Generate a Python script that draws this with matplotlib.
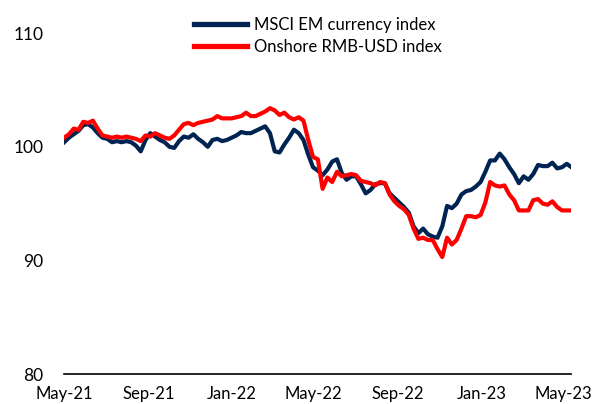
import matplotlib
matplotlib.use("Agg")
import matplotlib.pyplot as plt
import matplotlib.dates as mdates
import pandas as pd

plt.rcParams["font.family"] = ["Lato", "DejaVu Sans"]

# weekly observations, May-2021 to May-2023
START = "2021-05-01"
N_WEEKS = 107

MSCI_EM = [
    100.4, 100.8, 101.1, 101.4, 101.9, 102.0, 101.7, 101.2, 100.8, 100.7,
    100.4, 100.5, 100.4, 100.5, 100.4, 100.1, 99.6, 100.6, 101.2, 100.9,
    100.6, 100.4, 100.0, 99.9, 100.5, 100.9, 100.8, 101.1, 100.7, 100.4,
    100.0, 100.6, 100.7, 100.5, 100.6, 100.8, 101.0, 101.3, 101.2, 101.2,
    101.4, 101.6, 101.8, 101.2, 99.6, 99.5, 100.2, 100.8, 101.5, 101.2,
    100.6, 99.3, 98.2, 97.9, 97.5, 98.0, 98.7, 98.9, 97.7, 97.1,
    97.4, 97.4, 96.7, 95.9, 96.2, 96.7, 96.8, 96.8, 95.9, 95.5,
    95.1, 94.7, 94.2, 93.0, 92.4, 92.8, 92.3, 92.1, 92.0, 93.0,
    94.8, 94.6, 95.0, 95.8, 96.1, 96.2, 96.5, 96.9, 97.8, 98.8,
    98.8, 99.4, 98.9, 98.2, 97.6, 96.8, 97.4, 97.1, 97.6, 98.4,
    98.3, 98.3, 98.6, 98.1, 98.2, 98.5, 98.2,
]

RMB_USD = [
    100.8, 101.1, 101.6, 101.5, 102.2, 102.1, 102.3, 101.6, 101.0, 100.9,
    100.8, 100.9, 100.8, 100.9, 100.8, 100.7, 100.5, 101.0, 100.9, 101.2,
    101.0, 100.8, 100.7, 101.0, 101.5, 102.0, 102.1, 101.9, 102.1, 102.2,
    102.3, 102.4, 102.7, 102.5, 102.5, 102.5, 102.6, 102.7, 103.0, 102.7,
    102.7, 102.9, 103.1, 103.4, 103.2, 102.8, 103.0, 102.6, 102.4, 102.6,
    102.3, 100.6, 99.1, 98.9, 96.3, 97.3, 96.9, 97.8, 97.4, 97.5,
    97.6, 97.5, 97.0, 96.9, 96.8, 96.6, 96.9, 96.8, 95.8, 95.2,
    94.8, 94.5, 94.0, 92.8, 91.9, 92.0, 91.8, 91.8, 91.0, 90.3,
    92.0, 91.4, 91.8, 92.8, 93.9, 93.9, 93.8, 94.0, 95.1, 96.9,
    96.6, 96.5, 96.6, 95.8, 95.3, 94.4, 94.4, 94.4, 95.3, 95.4,
    95.0, 94.9, 95.2, 94.7, 94.4, 94.4, 94.4,
]

NAVY = "#002451"
RED = "#ff0000"

dates = pd.date_range(START, periods=N_WEEKS, freq="7D")

fig = plt.figure(figsize=(5.94, 4.04), dpi=100)
ax = fig.add_axes([0.108, 0.074, 0.853, 0.844])

ax.plot(dates, MSCI_EM, color=NAVY, lw=3.0, label="MSCI EM currency index")
ax.plot(dates, RMB_USD, color=RED, lw=3.0, label="Onshore RMB-USD index")

ax.set_ylim(80, 110)
ax.set_yticks([80, 90, 100, 110])
ax.set_xlim(pd.Timestamp("2021-05-01"), pd.Timestamp("2023-05-12"))
ax.xaxis.set_major_locator(mdates.MonthLocator(bymonth=[1, 5, 9]))
ax.xaxis.set_major_formatter(mdates.DateFormatter("%b-%y"))

for s in ("top", "right", "left"):
    ax.spines[s].set_visible(False)
ax.spines["bottom"].set_linewidth(1.2)
ax.tick_params(axis="both", length=0, colors="black")
ax.tick_params(axis="y", pad=15, labelsize=12.5)
ax.tick_params(axis="x", pad=8.5, labelsize=12)

leg = fig.legend(loc="upper left", bbox_to_anchor=(0.315, 0.975), frameon=False,
                 fontsize=12, handlelength=3.2, handletextpad=0.4,
                 labelspacing=0.35, borderaxespad=0)
for h in leg.get_lines():
    h.set_linewidth(3.8)

fig.savefig("out.png", dpi=100, facecolor="white")
